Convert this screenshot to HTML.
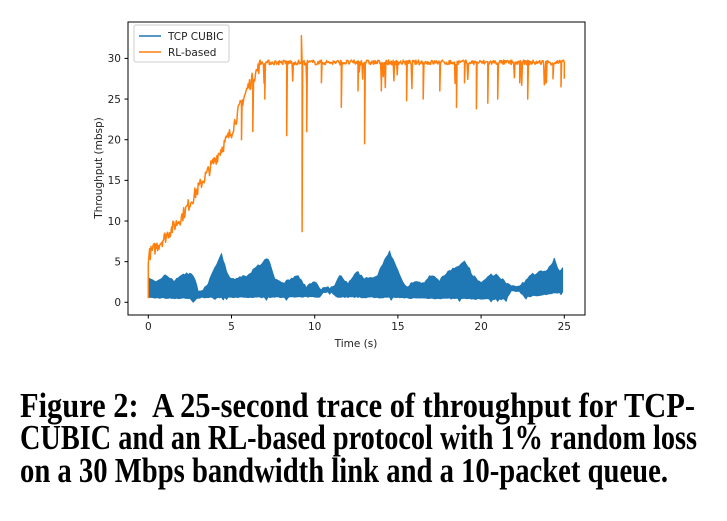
<!DOCTYPE html>
<html><head><meta charset="utf-8"><style>
body{margin:0;background:#fff;width:727px;height:521px;overflow:hidden;position:relative}
.cap{position:absolute;left:20px;font-family:"Liberation Serif",serif;font-weight:bold;font-size:32px;white-space:nowrap;transform-origin:0 0;line-height:1}
svg text{font-family:"DejaVu Sans",sans-serif;font-size:10.5px;fill:#222}
</style></head><body>
<svg id="s" width="727" height="370" style="position:absolute;left:0;top:0">
<rect x="128" y="22" width="457" height="293" fill="none" stroke="#000" stroke-width="1"/>
<g id="ticks"></g>
<path id="blue" fill="#1f77b4" stroke="#1f77b4" stroke-width="1" stroke-linejoin="round"/>
<path id="orange" fill="none" stroke="#ff7f0e" stroke-width="1.5" stroke-linejoin="round"/>
<rect x="134" y="25" width="95" height="37" fill="#fff" fill-opacity="0.8" stroke="#ccc" rx="2"/>
<line x1="139" y1="36" x2="161" y2="36" stroke="#1f77b4" stroke-width="1.5"/>
<text x="168" y="40">TCP CUBIC</text>
<line x1="139" y1="52" x2="161" y2="52" stroke="#ff7f0e" stroke-width="1.5"/>
<text x="168" y="56">RL-based</text>
<text x="356" y="347" text-anchor="middle">Time (s)</text>
<text transform="translate(102,168) rotate(-90)" text-anchor="middle">Throughput (mbsp)</text>
</svg>
<div class="cap" id="c1" style="top:388px">Figure 2:&nbsp; A 25-second trace of throughput for TCP-</div>
<div class="cap" id="c2" style="top:420px">CUBIC and an RL-based protocol with 1% random loss</div>
<div class="cap" id="c3" style="top:453px">on a 30 Mbps bandwidth link and a 10-packet queue.</div>
<script>
var X=t=>148.3+t*16.64, Y=v=>302.3-v*8.13;
var seed=7;function r(){seed=(seed*16807)%2147483647;return seed/2147483647;}
var tk='';
for(var i=0;i<=25;i+=5){var x=X(i);tk+=`<line x1="${x}" y1="315" x2="${x}" y2="318.5" stroke="#000"/><text x="${x}" y="330" text-anchor="middle">${i}</text>`;}
for(var v=0;v<=30;v+=5){var y=Y(v);tk+=`<line x1="124.5" y1="${y}" x2="128" y2="${y}" stroke="#000"/><text x="121" y="${y+3.8}" text-anchor="end">${v}</text>`;}
document.getElementById('ticks').innerHTML=tk;
function interp(k,t){for(var i=0;i<k.length-1;i++){if(t<=k[i+1][0]){var a=k[i],b=k[i+1];return a[1]+(b[1]-a[1])*(t-a[0])/(b[0]-a[0]);}}return k[k.length-1][1];}
var hi=[[0,3],[0.5,2.8],[1,3.5],[1.5,2.8],[2.3,3.8],[2.7,3.5],[3,1.5],[3.5,2],[4,4.5],[4.4,6],[4.7,4],[5,3],[6,3.5],[6.8,5],[7.2,5.5],[7.6,3],[8,2.5],[9,3.5],[9.5,2],[10,2.8],[10.5,1.4],[11,1.6],[11.5,3.5],[12,2.5],[12.5,4],[13,3],[13.8,3.5],[14,4.5],[14.5,6.3],[15,4],[15.5,2],[16,2.8],[16.5,2.5],[17,3.5],[17.5,2.8],[18,4],[18.5,4.5],[19,5.3],[19.5,3.5],[20,2.5],[20.5,3.5],[21,3.5],[21.5,2.5],[22,1.8],[22.5,2.5],[23,3.5],[24,4.2],[24.4,5.5],[24.7,4],[25,4.5]];
var lo=[[0,0.5],[2.5,0.4],[2.7,0],[3,0.5],[10.3,0.6],[10.5,1.2],[11,1.2],[11.3,0.6],[21.5,0.3],[21.8,1.3],[22.3,1.3],[22.6,0.6],[25,1.2]];
var up=[],dn=[];
for(var t=0;t<=25;t+=0.1){var h=interp(hi,t)-r()*0.35;var l=interp(lo,t)+r()*0.15;if(r()<0.04)l-=0.3;if(h<l+0.6)h=l+0.6;up.push(X(t).toFixed(1)+','+Y(h).toFixed(1));dn.unshift(X(t).toFixed(1)+','+Y(l).toFixed(1));}
document.getElementById('blue').setAttribute('d','M'+up.join('L')+'L'+dn.join('L')+'Z');
var ramp=[[0,5.5],[0.1,6],[1,8],[2,10.5],[3,14],[4,17.5],[5,21],[5.5,24],[6,26.5],[6.8,29.5],[25,29.5]];
var dips={5.6:20,6.3:21,7:25,8.3:20.5,9.25:8.7,9.5:21,10.4:27,11.6:24,12.6:26,13:19.5,14:26,15.5:24.8,16.5:25,17.5:26,18.5:24,19:27,19.7:23.8,20.4:24.5,21:25,22.3:27,22.8:25,23.9:27,24.3:27.5,24.8:26.5};
var p=['M'+X(0)+','+Y(0.5)];
for(var t=0;t<=25.001;t+=0.04){var v=interp(ramp,t);v+= t<6.8?(r()-0.5)*1.6:(r()-0.5)*0.6;
 if(t>6.8&&r()<0.03)v-=1+r()*2;
 p.push('L'+X(t).toFixed(1)+','+Y(v).toFixed(1));
 for(var d in dips){if(Math.abs(t-d)<0.02){p.push('L'+X(t).toFixed(1)+','+Y(dips[d]).toFixed(1));}}
 if(Math.abs(t-9.2)<0.02)p.push('L'+X(t).toFixed(1)+','+Y(32.8).toFixed(1));
}
p.push('L'+X(25)+','+Y(27.5));
document.getElementById('orange').setAttribute('d',p.join(''));
[['c1',675],['c2',677],['c3',648]].forEach(function(a){var e=document.getElementById(a[0]);var w=e.getBoundingClientRect().width;e.style.transform='scale('+(a[1]/w)+',1.08)';});
</script>
</body></html>
